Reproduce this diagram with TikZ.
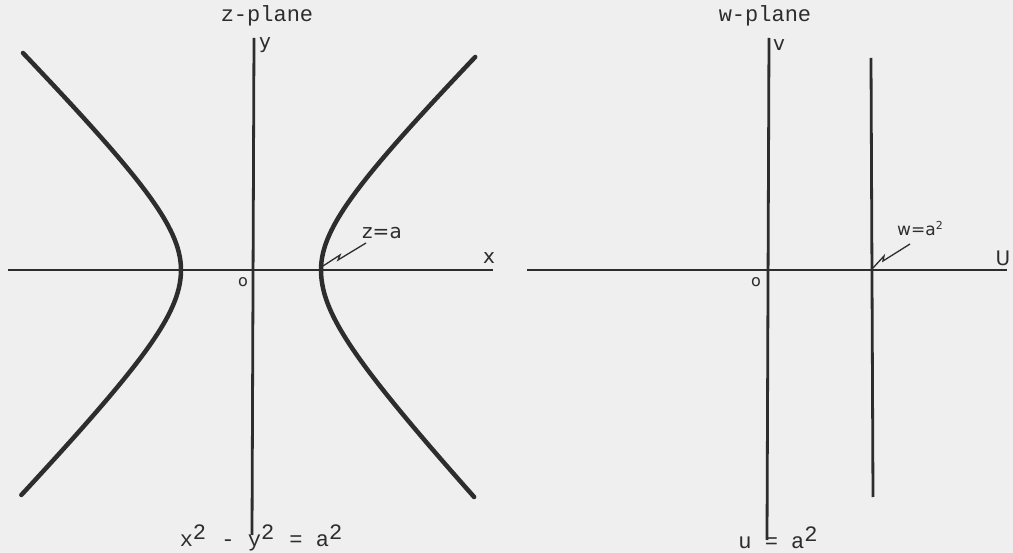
\documentclass[tikz,border=0pt]{standalone}
\usepackage{fontspec}
\setmonofont{Liberation Mono}
\setsansfont{DejaVu Sans}
\definecolor{bg}{RGB}{239,239,239}
\definecolor{ink}{RGB}{45,45,45}
\newcommand{\sqr}{\raisebox{7pt}{2}}
\begin{document}
\begin{tikzpicture}[x=1pt,y=-1pt,
  axis/.style={draw=ink,line width=2.8pt},
  curve/.style={draw=ink,line width=4.5pt,line cap=round},
  leader/.style={draw=ink,line width=1.3pt},
  tt/.style={font=\ttfamily\fontsize{22}{22}\selectfont,text=ink,inner sep=0pt},
  hand/.style={font=\sffamily\fontsize{20}{20}\selectfont,text=ink,inner sep=0pt}]
\fill[bg] (0,0) rectangle (1013,553);
\useasboundingbox (0,0) rectangle (1013,553);
% ---------- z-plane ----------
\coordinate (xl) at (8,270);
\coordinate (xr) at (493,270);
\coordinate (yt) at (254,38);
\coordinate (yb) at (252,535);
\draw[axis] (xl) -- (xr);
\draw[axis] (yt) -- (yb);
% right branch (upper and lower halves)
\draw[curve] plot[domain=-2.13:0,samples=50] ({251+70*sqrt(1+(\x*100/70)*(\x*100/70))}, {270+\x*100})
  -- plot[domain=0:2.27,samples=50] ({251+70*sqrt(1+(\x*100/75)*(\x*100/75))}, {270+\x*100});
% left branch
\draw[curve] plot[domain=-2.17:0,samples=50] ({251-70*sqrt(1+(\x*100/70)*(\x*100/70))}, {270+\x*100})
  -- plot[domain=0:2.25,samples=50] ({251-70*sqrt(1+(\x*100/72)*(\x*100/72))}, {270+\x*100});
\node[tt] (zt) at (267,16) {z-plane};
\node[hand] (ylab) at (265,45) {y};
\node[hand] (xlab) at (489,258) {x};
\node[hand,font=\sffamily\fontsize{16}{16}\selectfont] (o1) at (243,282) {o};
\coordinate (za) at (323,266);
\node[hand] (zlab) at (382,233) {z=a};
\draw[leader] (za) -- (340,255) -- (338,260) -- (366,243);
\node[tt] (eq1) at (261,538) {x\sqr{}\hspace{2pt} - y\sqr{}\hspace{2pt} = a\sqr};
% ---------- w-plane ----------
\coordinate (ul) at (527,270);
\coordinate (ur) at (1007,270);
\coordinate (vt) at (769,38);
\coordinate (vb) at (767,540);
\draw[axis] (ul) -- (ur);
\draw[axis] (vt) -- (vb);
\coordinate (lt) at (871,58);
\coordinate (lb) at (873,497);
\draw[axis] (lt) -- (lb);
\node[tt] (wt) at (765,16) {w-plane};
\node[hand] (vlab) at (779,45) {v};
\node[hand] (ulab) at (1003,258) {U};
\node[hand,font=\sffamily\fontsize{16}{16}\selectfont] (o2) at (756,282) {o};
\coordinate (wa) at (873,268);
\node[hand,font=\sffamily\fontsize{17}{17}\selectfont] (wlab) at (920,229) {w=a\raisebox{6pt}{\fontsize{11}{11}\selectfont 2}};
\draw[leader] (wa) -- (884,256) -- (883,261) -- (910,244);
\node[tt] (eq2) at (778,538) {u = a\sqr};
\end{tikzpicture}
\end{document}
